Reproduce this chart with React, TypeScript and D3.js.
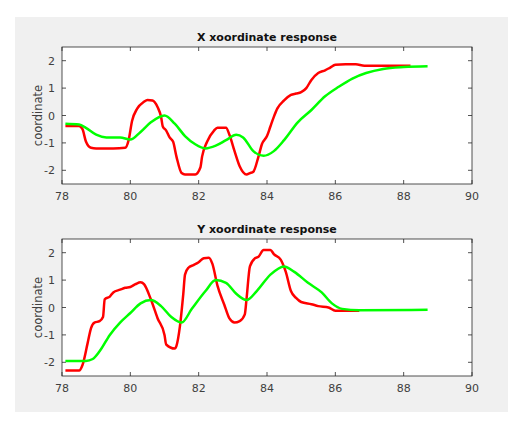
import React from "react";
import * as d3 from "d3";

const xTicks = [78, 80, 82, 84, 86, 88, 90];
const yTicks = [-2, -1, 0, 1, 2];

const redX: [number, number][] = [[78.1,-0.38],[78.5,-0.38],[78.6,-0.5],[78.7,-0.95],[78.85,-1.18],[79,-1.2],[79.5,-1.2],[79.85,-1.18],[79.95,-0.9],[80.05,-0.2],[80.2,0.25],[80.4,0.5],[80.5,0.57],[80.65,0.55],[80.8,0.3],[80.9,-0.05],[80.95,-0.4],[81.05,-0.55],[81.15,-0.8],[81.25,-0.95],[81.35,-1.5],[81.5,-2.1],[81.6,-2.15],[81.9,-2.15],[82.05,-1.9],[82.1,-1.5],[82.25,-0.95],[82.45,-0.55],[82.55,-0.45],[82.8,-0.45],[82.9,-0.7],[83.05,-1.3],[83.2,-1.85],[83.4,-2.15],[83.5,-2.1],[83.6,-2.05],[83.75,-1.5],[83.85,-1.05],[84,-0.75],[84.1,-0.4],[84.2,-0.05],[84.3,0.25],[84.5,0.55],[84.7,0.75],[84.85,0.8],[85,0.85],[85.15,1.0],[85.3,1.3],[85.5,1.55],[85.7,1.65],[85.85,1.75],[86,1.85],[86.3,1.87],[86.6,1.87],[86.85,1.82],[87.5,1.82],[88.2,1.82]];
const greenX: [number, number][] = [[78.1,-0.3],[78.5,-0.33],[78.7,-0.45],[79,-0.7],[79.3,-0.8],[79.7,-0.8],[80,-0.88],[80.3,-0.6],[80.6,-0.25],[81,0.0],[81.3,-0.3],[81.6,-0.75],[81.9,-1.05],[82.2,-1.2],[82.5,-1.1],[82.8,-0.9],[83.1,-0.7],[83.3,-0.8],[83.6,-1.3],[83.9,-1.47],[84.2,-1.3],[84.5,-0.9],[84.9,-0.25],[85.3,0.2],[85.7,0.7],[86.1,1.05],[86.5,1.35],[86.9,1.55],[87.4,1.7],[88,1.77],[88.7,1.8]];
const redY: [number, number][] = [[78.1,-2.3],[78.5,-2.3],[78.6,-2.1],[78.75,-1.3],[78.85,-0.75],[78.95,-0.55],[79.1,-0.5],[79.2,-0.35],[79.25,0.3],[79.4,0.4],[79.5,0.55],[79.7,0.65],[79.85,0.72],[80,0.75],[80.15,0.85],[80.3,0.92],[80.4,0.85],[80.6,0.3],[80.8,-0.4],[81,-1.0],[81.05,-1.35],[81.3,-1.5],[81.35,-1.4],[81.45,-0.7],[81.55,0.5],[81.6,1.2],[81.7,1.45],[81.85,1.55],[82,1.65],[82.15,1.8],[82.3,1.82],[82.4,1.6],[82.55,0.8],[82.75,0.1],[82.9,-0.4],[83.05,-0.55],[83.2,-0.5],[83.35,-0.25],[83.4,0.3],[83.5,1.5],[83.65,1.8],[83.75,1.85],[83.9,2.1],[84.1,2.1],[84.2,1.95],[84.4,1.75],[84.55,1.3],[84.7,0.6],[84.85,0.35],[85,0.2],[85.3,0.12],[85.5,0.05],[85.8,0],[86,-0.12],[86.7,-0.12]];
const greenY: [number, number][] = [[78.1,-1.95],[78.7,-1.95],[78.9,-1.88],[79.1,-1.6],[79.4,-1.0],[79.7,-0.55],[80,-0.2],[80.3,0.15],[80.6,0.27],[80.9,0.05],[81.2,-0.35],[81.5,-0.55],[81.8,-0.05],[82.2,0.6],[82.5,1.0],[82.8,0.9],[83.1,0.5],[83.4,0.27],[83.7,0.6],[84.1,1.2],[84.5,1.5],[84.8,1.3],[85.2,0.9],[85.6,0.55],[85.9,0.15],[86.2,-0.05],[86.7,-0.1],[88.7,-0.08]];

const font = "DejaVu Sans, Verdana, sans-serif";
const txt = "#404040";

function Panel({ top, bottom, title, red, green }: { top: number; bottom: number; title: string; red: [number, number][]; green: [number, number][] }) {
  const x = d3.scaleLinear().domain([78, 90]).range([62, 472]);
  const y = d3.scaleLinear().domain([-2.5, 2.5]).range([bottom, top]);
  const line = d3.line<[number, number]>().x(d => x(d[0])).y(d => y(d[1])).curve(d3.curveMonotoneX);
  const tl = 4;
  return (
    <g>
      <rect x={62} y={top} width={410} height={bottom - top} fill="#fff" stroke="#262626" strokeWidth={0.8} />
      {xTicks.map(t => (
        <g key={t}>
          <line x1={x(t)} x2={x(t)} y1={bottom} y2={bottom - tl} stroke="#262626" strokeWidth={0.8} />
          <line x1={x(t)} x2={x(t)} y1={top} y2={top + tl} stroke="#262626" strokeWidth={0.8} />
          <text x={x(t)} y={bottom + 16} textAnchor="middle" fontSize={11} fill={txt}>{t}</text>
        </g>
      ))}
      {yTicks.map(t => (
        <g key={t}>
          <line x1={62} x2={62 + tl} y1={y(t)} y2={y(t)} stroke="#262626" strokeWidth={0.8} />
          <line x1={472} x2={472 - tl} y1={y(t)} y2={y(t)} stroke="#262626" strokeWidth={0.8} />
          <text x={55} y={y(t) + 4} textAnchor="end" fontSize={11} fill={txt}>{t}</text>
        </g>
      ))}
      <text x={267} y={top - 6} textAnchor="middle" fontSize={11} fontWeight="bold" fill="#111">{title}</text>
      <text transform={`translate(42,${(top + bottom) / 2}) rotate(-90)`} textAnchor="middle" fontSize={11.5} fill={txt}>coordinate</text>
      <path d={line(red) || ""} fill="none" stroke="#ff0000" strokeWidth={2.5} />
      <path d={line(green) || ""} fill="none" stroke="#00ff00" strokeWidth={2.5} />
    </g>
  );
}

export default function App() {
  return (
    <svg width={527} height={425} style={{ position: "absolute", left: 0, top: 0 }} fontFamily={font}>
      <rect x={0} y={0} width={527} height={425} fill="#fff" />
      <rect x={15} y={17} width={493} height={395} fill="#f0f0f0" />
      <Panel top={47} bottom={184} title="X xoordinate response" red={redX} green={greenX} />
      <Panel top={239} bottom={376} title="Y xoordinate response" red={redY} green={greenY} />
    </svg>
  );
}
